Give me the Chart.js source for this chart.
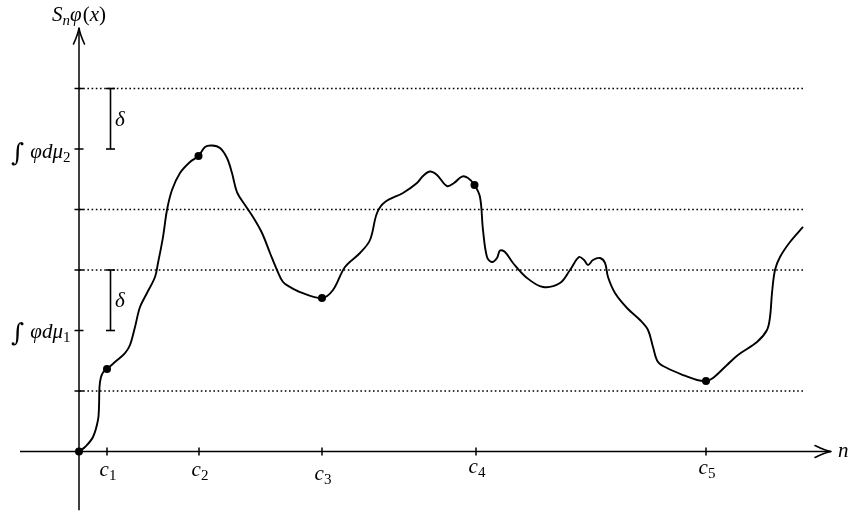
<!DOCTYPE html>
<html><head><meta charset="utf-8">
<script src="https://cdn.jsdelivr.net/npm/chart.js@4/dist/chart.umd.min.js"></script>
<style>html,body{margin:0;padding:0;background:#fff;}canvas{display:block;}</style>
</head><body>
<canvas id="c" width="850" height="514"></canvas>
<script>
// ---- data ----
const curveX = [0,0.6,1.4,1.9,2.0,2.05,2.2,2.5,2.8,3.6,4.6,5.1,5.6,6.1,6.8,7.6,7.9,8.4,8.8,9.3,10.1,11.1,11.95,12.6,13.3,14.1,14.8,15.3,15.8,16.6,17.4,18.3,19.1,19.8,20.4,21.1,22.1,24.3,25.4,26.6,28.1,29.1,29.8,30.6,32.4,33.8,34.4,35.1,35.8,36.8,37.5,38.3,38.9,39.55,40.1,40.4,40.8,41.3,41.8,42.1,42.6,43.4,44.8,46.4,48.1,49.1,50.0,50.5,50.9,51.4,52.1,52.6,52.9,53.6,54.8,56.1,56.9,57.4,57.9,58.8,60.4,61.8,62.7,63.4,64.8,65.9,67.8,68.8,69.1,69.3,69.6,70.1,71.1,72.4];
const curveY = [0,0.074,0.240,0.521,0.736,1.066,1.231,1.331,1.364,1.479,1.628,1.760,2.058,2.388,2.620,2.884,3.116,3.545,3.992,4.322,4.603,4.785,4.884,5.033,5.058,5.017,4.851,4.603,4.289,4.074,3.876,3.612,3.281,3.000,2.802,2.719,2.636,2.537,2.669,3.050,3.281,3.496,3.942,4.124,4.273,4.438,4.554,4.628,4.570,4.388,4.438,4.545,4.521,4.405,4.207,3.661,3.215,3.132,3.198,3.322,3.298,3.116,2.868,2.719,2.785,3.000,3.215,3.165,3.083,3.165,3.198,3.116,2.884,2.620,2.372,2.174,2.008,1.727,1.479,1.380,1.264,1.182,1.165,1.215,1.430,1.595,1.810,2.008,2.223,2.620,3.000,3.215,3.463,3.711];
const markedX = [0, 2.8, 11.95, 24.3, 39.55, 62.7];
const markedY = [0, 1.364, 4.884, 2.537, 4.405, 1.165];
const levelY = [1, 3, 4, 6];          // dotted levels
const levelEndX = 72.6;
const deltaX = 3.15;
const deltaLow = [5, 2];
const deltaHigh = [6, 3];
const xTickVals = [2.8, 12.0, 24.3, 39.7, 62.7];
const xTickLabels = ['1', '2', '3', '4', '5'];   // subscripts of c
const yTickVals = [1, 2, 3, 4, 5, 6];
const yTickLabels = ['', '1', '', '', '2', ''];   // subscripts of μ
const axisX = [-5.9, 75.2];
const axisY = [-0.97, 7.0];

// ---- datasets ----
const datasets = [];
levelY.forEach(L => datasets.push({
  data: [{x: 0, y: L}, {x: levelEndX, y: L}],
  borderColor: '#000', borderWidth: 1.6, borderDash: [1.6, 2.6],
  pointRadius: 0, order: 3
}));
deltaLow.forEach((lo, i) => datasets.push({
  data: [{x: deltaX, y: lo}, {x: deltaX, y: deltaHigh[i]}],
  borderColor: '#000', borderWidth: 1.6,
  pointStyle: 'line', pointRadius: 4.5, pointBorderWidth: 1.6,
  pointBorderColor: '#000', order: 2
}));
datasets.push({
  data: curveX.map((x, i) => ({x, y: curveY[i]})),
  borderColor: '#000', borderWidth: 1.9, tension: 0.35,
  pointRadius: 0, order: 1
});
datasets.push({
  data: markedX.map((x, i) => ({x, y: markedY[i]})),
  showLine: false, pointRadius: 4, pointBackgroundColor: '#000',
  pointBorderColor: '#000', pointBorderWidth: 0, order: 0
});

const IT = 'italic 21px "Liberation Serif"';
const ITS = 'italic 15px "Liberation Serif"';
const RMS = '15px "Liberation Serif"';
const RM = '21px "Liberation Serif"';
const INT = '25px "DejaVu Serif"';

function drawParts(ctx, parts, x, base, align) {
  let w = 0;
  parts.forEach(p => { ctx.font = p[1]; w += ctx.measureText(p[0]).width + (p[3] || 0); });
  let cx = align === 'center' ? x - w / 2 : align === 'right' ? x - w : x;
  parts.forEach(p => {
    ctx.font = p[1];
    ctx.fillText(p[0], cx, base + (p[2] || 0));
    cx += ctx.measureText(p[0]).width + (p[3] || 0);
  });
}

const axesPlugin = {
  id: 'axes',
  beforeDatasetsDraw(chart) {
    const ctx = chart.ctx, xs = chart.scales.x, ys = chart.scales.y;
    const ox = xs.getPixelForValue(0), oy = ys.getPixelForValue(0);
    const x0 = xs.getPixelForValue(axisX[0]), x1 = xs.getPixelForValue(axisX[1]);
    const y0 = ys.getPixelForValue(axisY[0]), y1 = ys.getPixelForValue(axisY[1]);
    ctx.save();
    ctx.strokeStyle = '#000'; ctx.fillStyle = '#000';
    ctx.lineWidth = 1.5; ctx.lineCap = 'butt';
    ctx.beginPath();
    ctx.moveTo(x0, oy); ctx.lineTo(x1, oy);
    ctx.moveTo(ox, y0); ctx.lineTo(ox, y1);
    ctx.stroke();
    // arrow heads
    ctx.lineWidth = 1.6; ctx.lineCap = 'round';
    ctx.beginPath();
    ctx.moveTo(ox - 5.5, y1 + 16); ctx.quadraticCurveTo(ox - 1, y1 + 6, ox, y1);
    ctx.moveTo(ox + 5.5, y1 + 16); ctx.quadraticCurveTo(ox + 1, y1 + 6, ox, y1);
    ctx.moveTo(x1 - 16, oy - 6); ctx.quadraticCurveTo(x1 - 6, oy - 1, x1, oy);
    ctx.moveTo(x1 - 16, oy + 6); ctx.quadraticCurveTo(x1 - 6, oy + 1, x1, oy);
    ctx.stroke();
    // ticks
    ctx.lineWidth = 1.5; ctx.lineCap = 'butt';
    ctx.beginPath();
    xTickVals.forEach(v => { const p = xs.getPixelForValue(v); ctx.moveTo(p, oy - 4); ctx.lineTo(p, oy + 4); });
    yTickVals.forEach(v => { const p = ys.getPixelForValue(v); ctx.moveTo(ox - 4.5, p); ctx.lineTo(ox + 4.5, p); });
    ctx.stroke();
    ctx.textBaseline = 'alphabetic';
    // x tick labels
    const cBase = [476, 476, 480, 473, 474];
    xTickVals.forEach((v, i) => {
      const p = xs.getPixelForValue(v);
      drawParts(ctx, [['c', IT], [xTickLabels[i], RMS, 4]], p + 1, cBase[i], 'center');
    });
    // y tick labels
    const yOff = [0, 7, 0, 0, 9, 0];
    yTickVals.forEach((v, i) => {
      if (!yTickLabels[i]) return;
      const p = ys.getPixelForValue(v);
      drawParts(ctx, [['∫', INT, 3, 6], ['φ', IT], ['d', IT], ['μ', IT], [yTickLabels[i], RMS, 4]], ox - 8.5, p + yOff[i], 'right');
    });
    // axis titles
    drawParts(ctx, [['S', IT], ['n', ITS, 4], ['φ', IT, 0, 1], ['(', RM], ['x', IT], [')', RM]], ox, 21, 'center');
    drawParts(ctx, [['n', IT]], x1 + 7, 457, 'left');
    // delta labels
    const dx = xs.getPixelForValue(deltaX);
    deltaLow.forEach((lo, i) => {
      const mid = (ys.getPixelForValue(lo) + ys.getPixelForValue(deltaHigh[i])) / 2;
      drawParts(ctx, [['δ', IT]], dx + 4.5, mid + 7, 'left');
    });
    ctx.restore();
  }
};

new Chart(document.getElementById('c'), {
  type: 'line',
  data: {datasets},
  options: {
    responsive: false, animation: false, events: [],
    layout: {padding: 0, autoPadding: false},
    plugins: {legend: {display: false}, tooltip: {enabled: false}},
    scales: {
      x: {type: 'linear', min: -7.9, max: 77.1, display: false},
      y: {type: 'linear', min: -1.033, max: 7.463, display: false}
    }
  },
  plugins: [axesPlugin]
});
</script>
</body></html>
